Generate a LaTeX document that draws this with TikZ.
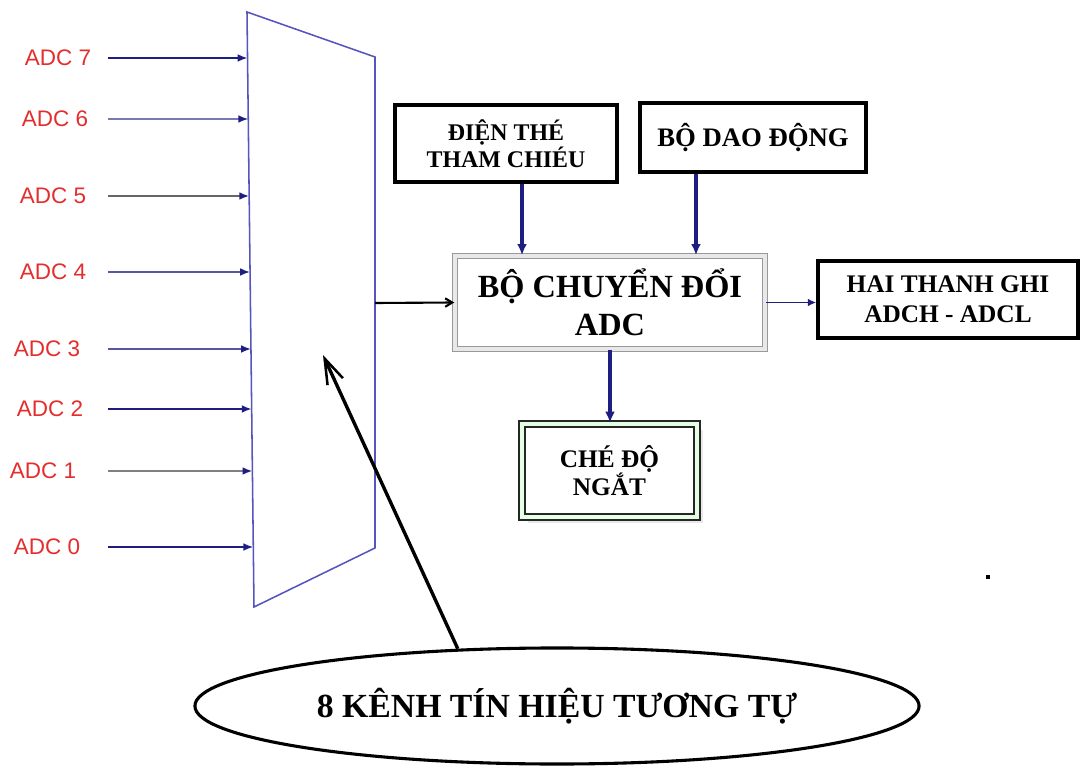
\documentclass[tikz,border=0pt]{standalone}
\usepackage{fontspec}
\setmainfont{Liberation Serif}
\newfontfamily\adcfont{Liberation Sans}
\usepackage{xcolor}
\usetikzlibrary{arrows.meta, positioning, calc, shapes.geometric, shadows}
\definecolor{wire}{RGB}{30,30,130}
\definecolor{muxblue}{RGB}{85,85,190}
\definecolor{lblred}{RGB}{228,45,45}

\begin{document}
\begin{tikzpicture}[
  x=0.025cm, y=-0.025cm,
  blk/.style={rectangle, draw=black, line width=2.4pt, fill=white,
              align=center, inner sep=2pt},
  convbox/.style={rectangle, draw=gray!80, double=gray!18, double distance=2.6pt,
                  line width=1pt, fill=white, align=center, inner sep=2pt},
  intbox/.style={rectangle, draw=black!85, line width=1.6pt, fill=white,
                 double=green!10, double distance=3pt, align=center,
                 drop shadow={shadow xshift=4pt, shadow yshift=-4pt, fill=gray!30, opacity=0.6}},
  adclbl/.style={text=lblred, font=\adcfont\fontsize{16}{19}\selectfont, inner sep=0pt},
  inarr/.style={-{Latex[length=7pt, width=5.5pt, color=wire]}, line width=1.2pt},
  varr/.style={-{Latex[length=8pt, width=7pt]}, line width=2.8pt, wire},
  harr/.style={-{Latex[length=6pt, width=5.5pt]}, line width=1.3pt, wire},
  blkarr/.style={-{Straight Barb[length=5pt, width=6pt]}, line width=1.5pt, black},
  mux/.style={draw=muxblue, line width=1.1pt, fill=white},
  pointer/.style={-{Straight Barb[length=18pt, width=12pt, line width=1.8pt]}, line width=2.4pt, black}
]
\useasboundingbox (0,0) rectangle (1080,767);
%% Multiplexer
\coordinate (mtl) at (247,12);
\coordinate (mtr) at (375,57);
\coordinate (mbr) at (375,548);
\coordinate (mbl) at (254,607);
\draw[mux] (mtl) -- (mtr) -- (mbr) -- (mbl) -- cycle;
\coordinate (mout) at (375,303);
%% Analog inputs
\foreach \i/\y/\lx/\c in {7/58/58/wire, 6/119/55/wire!60, 5/196/53/black!60,
  4/272/53/wire!75, 3/349/47/wire!75, 2/409/50/wire, 1/471/43/black!50, 0/547/47/wire}{
  \node[adclbl] (l\i) at (\lx,\y) {ADC \i};
  \coordinate (s\i) at (108,\y);
  \coordinate (e\i) at ($(mtl)!{(\y-12)/595}!(mbl)$);
  \draw[inarr, draw=\c] (s\i) -- (e\i);
}
%% Converter and blocks
\node[convbox, minimum width=7.75cm, minimum height=2.325cm,
      font=\bfseries\fontsize{23}{27}\selectfont] (conv) at (610,302.5) {BỘ CHUYỂN ĐỔI\\ADC};
\node[blk, minimum width=5.55cm, minimum height=1.925cm,
      font=\bfseries\fontsize{17}{19}\selectfont] (vref) at (506,143.5) {ĐIỆN THÉ\\THAM CHIÉU};
\node[blk, minimum width=5.65cm, minimum height=1.725cm,
      font=\bfseries\fontsize{19}{22}\selectfont] (osc) at (753,137.5) {BỘ DAO ĐỘNG};
\node[blk, minimum width=6.5cm, minimum height=1.925cm,
      font=\bfseries\fontsize{18}{21}\selectfont] (reg) at (948,299.5) {HAI THANH GHI\\ADCH - ADCL};
\node[intbox, minimum width=4.375cm, minimum height=2.325cm,
      font=\bfseries\fontsize{18}{20}\selectfont] (intr) at (609.5,470.5) {CHÉ ĐỘ\\NGẮT};
%% Connections
\draw[blkarr] (mout) -- (conv.west);
\draw[varr] ([xshift=0.4cm]vref.south) -- ([xshift=0.4cm]vref.south |- conv.north);
\draw[varr] ([xshift=-1.425cm]osc.south) -- ([xshift=-1.425cm]osc.south |- conv.north);
\draw[harr] (conv.east) -- (conv.east -| reg.west);
\draw[varr] (conv.south) -- (conv.south |- intr.north);
%% Signal label
\node[ellipse, draw=black, line width=2.2pt, fill=white, minimum width=18.1cm,
      minimum height=2.9cm, inner sep=0pt,
      font=\bfseries\fontsize{24}{28}\selectfont] (sig) at (557,706) {8 KÊNH TÍN HIỆU TƯƠNG TỰ};
\coordinate (ptr) at (323,355);
\draw[pointer] (sig.150) -- (ptr);
\fill (986,575) rectangle (990,579);
\end{tikzpicture}
\end{document}
